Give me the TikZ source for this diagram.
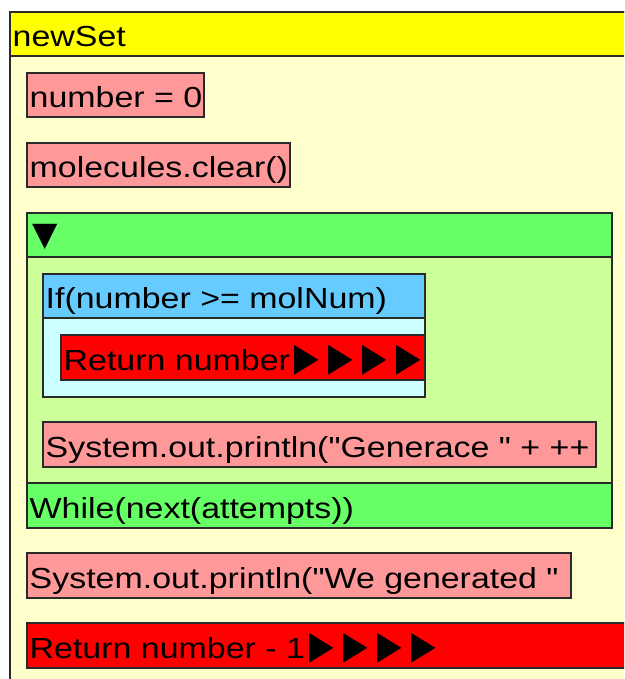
\documentclass[tikz,border=0pt]{standalone}
\usepackage{fontspec}
\setmainfont[FakeStretch=1.17, Ligatures=TeXOff]{Liberation Sans}
\newfontfamily\symfont{DejaVu Sans}
\definecolor{edge}{HTML}{2A2A2A}
\definecolor{methodHead}{HTML}{FFFF00}
\definecolor{methodBody}{HTML}{FFFFCC}
\definecolor{stmt}{HTML}{FF9999}
\definecolor{retFill}{HTML}{FF0000}
\definecolor{loopHead}{HTML}{66FF66}
\definecolor{loopBody}{HTML}{CCFF99}
\definecolor{ifHead}{HTML}{66CCFF}
\definecolor{ifBody}{HTML}{CCFFFF}

% block from (x1,y1) to (x2,y2), y measured downwards
\newcommand\blk[6]{%
  \node[blk, fill=#6, minimum width={#4pt-#2pt}, minimum height={#5pt-#3pt}] (#1) at (#2,#3) {};}
% code text sitting on the bottom line of a block
\newcommand\code[2]{%
  \node[codetxt] (#1-t) at ([xshift=2.5pt,yshift=9.5pt]#1.south west) {#2};}
% return markers and the collapse marker
\newcommand\retmark{{\symfont\fontsize{29}{29}\selectfont\makebox[34pt]{\scalebox{1.1}[1.35]{▶}}}}
\newcommand\foldmark{{\symfont\fontsize{33}{33}\selectfont ▼}}

\begin{document}
\begin{tikzpicture}[x=1pt, y=-1pt,
  blk/.style={draw=edge, line width=1.3pt, rectangle, inner sep=0pt, outer sep=0pt, anchor=north west},
  codetxt/.style={anchor=base west, inner sep=0pt, font=\fontsize{29}{34}\selectfont, text=black}]
\useasboundingbox (0,0) rectangle (624,679);
\clip (0,0) rectangle (624,679);
\fill[white] (0,0) rectangle (624,679);

% method frame
\blk{method}{10}{12}{660}{720}{methodBody}
\blk{methodHd}{10}{12}{660}{56}{methodHead}
\code{methodHd}{newSet}

\blk{s1}{27}{73}{204}{117}{stmt}
\code{s1}{number = 0}
\blk{s2}{27}{143}{290}{187}{stmt}
\code{s2}{molecules.clear()}

% do-while loop
\blk{loop}{27}{213}{612}{528}{loopBody}
\blk{loopHd}{27}{213}{612}{257}{loopHead}
\code{loopHd}{\hspace{3pt}\raisebox{2pt}{\foldmark}}
\blk{loopFt}{27}{483}{612}{528}{loopHead}
\code{loopFt}{While(next(attempts))}

% if
\blk{if}{43}{274}{425}{397}{ifBody}
\blk{ifHd}{43}{274}{425}{318}{ifHead}
\code{ifHd}{If(number >= molNum)}
\blk{ret1}{61}{335}{425}{380}{retFill}
\code{ret1}{Return number\retmark\retmark\retmark\retmark}

\blk{s3}{43}{422}{596}{467}{stmt}
\code{s3}{System.out.println("Generace " + ++}

\blk{s4}{27}{553}{571}{598}{stmt}
\code{s4}{System.out.println("We generated "}

\blk{ret2}{27}{623}{660}{668}{retFill}
\code{ret2}{Return number - 1\retmark\retmark\retmark\retmark}
\end{tikzpicture}
\end{document}
